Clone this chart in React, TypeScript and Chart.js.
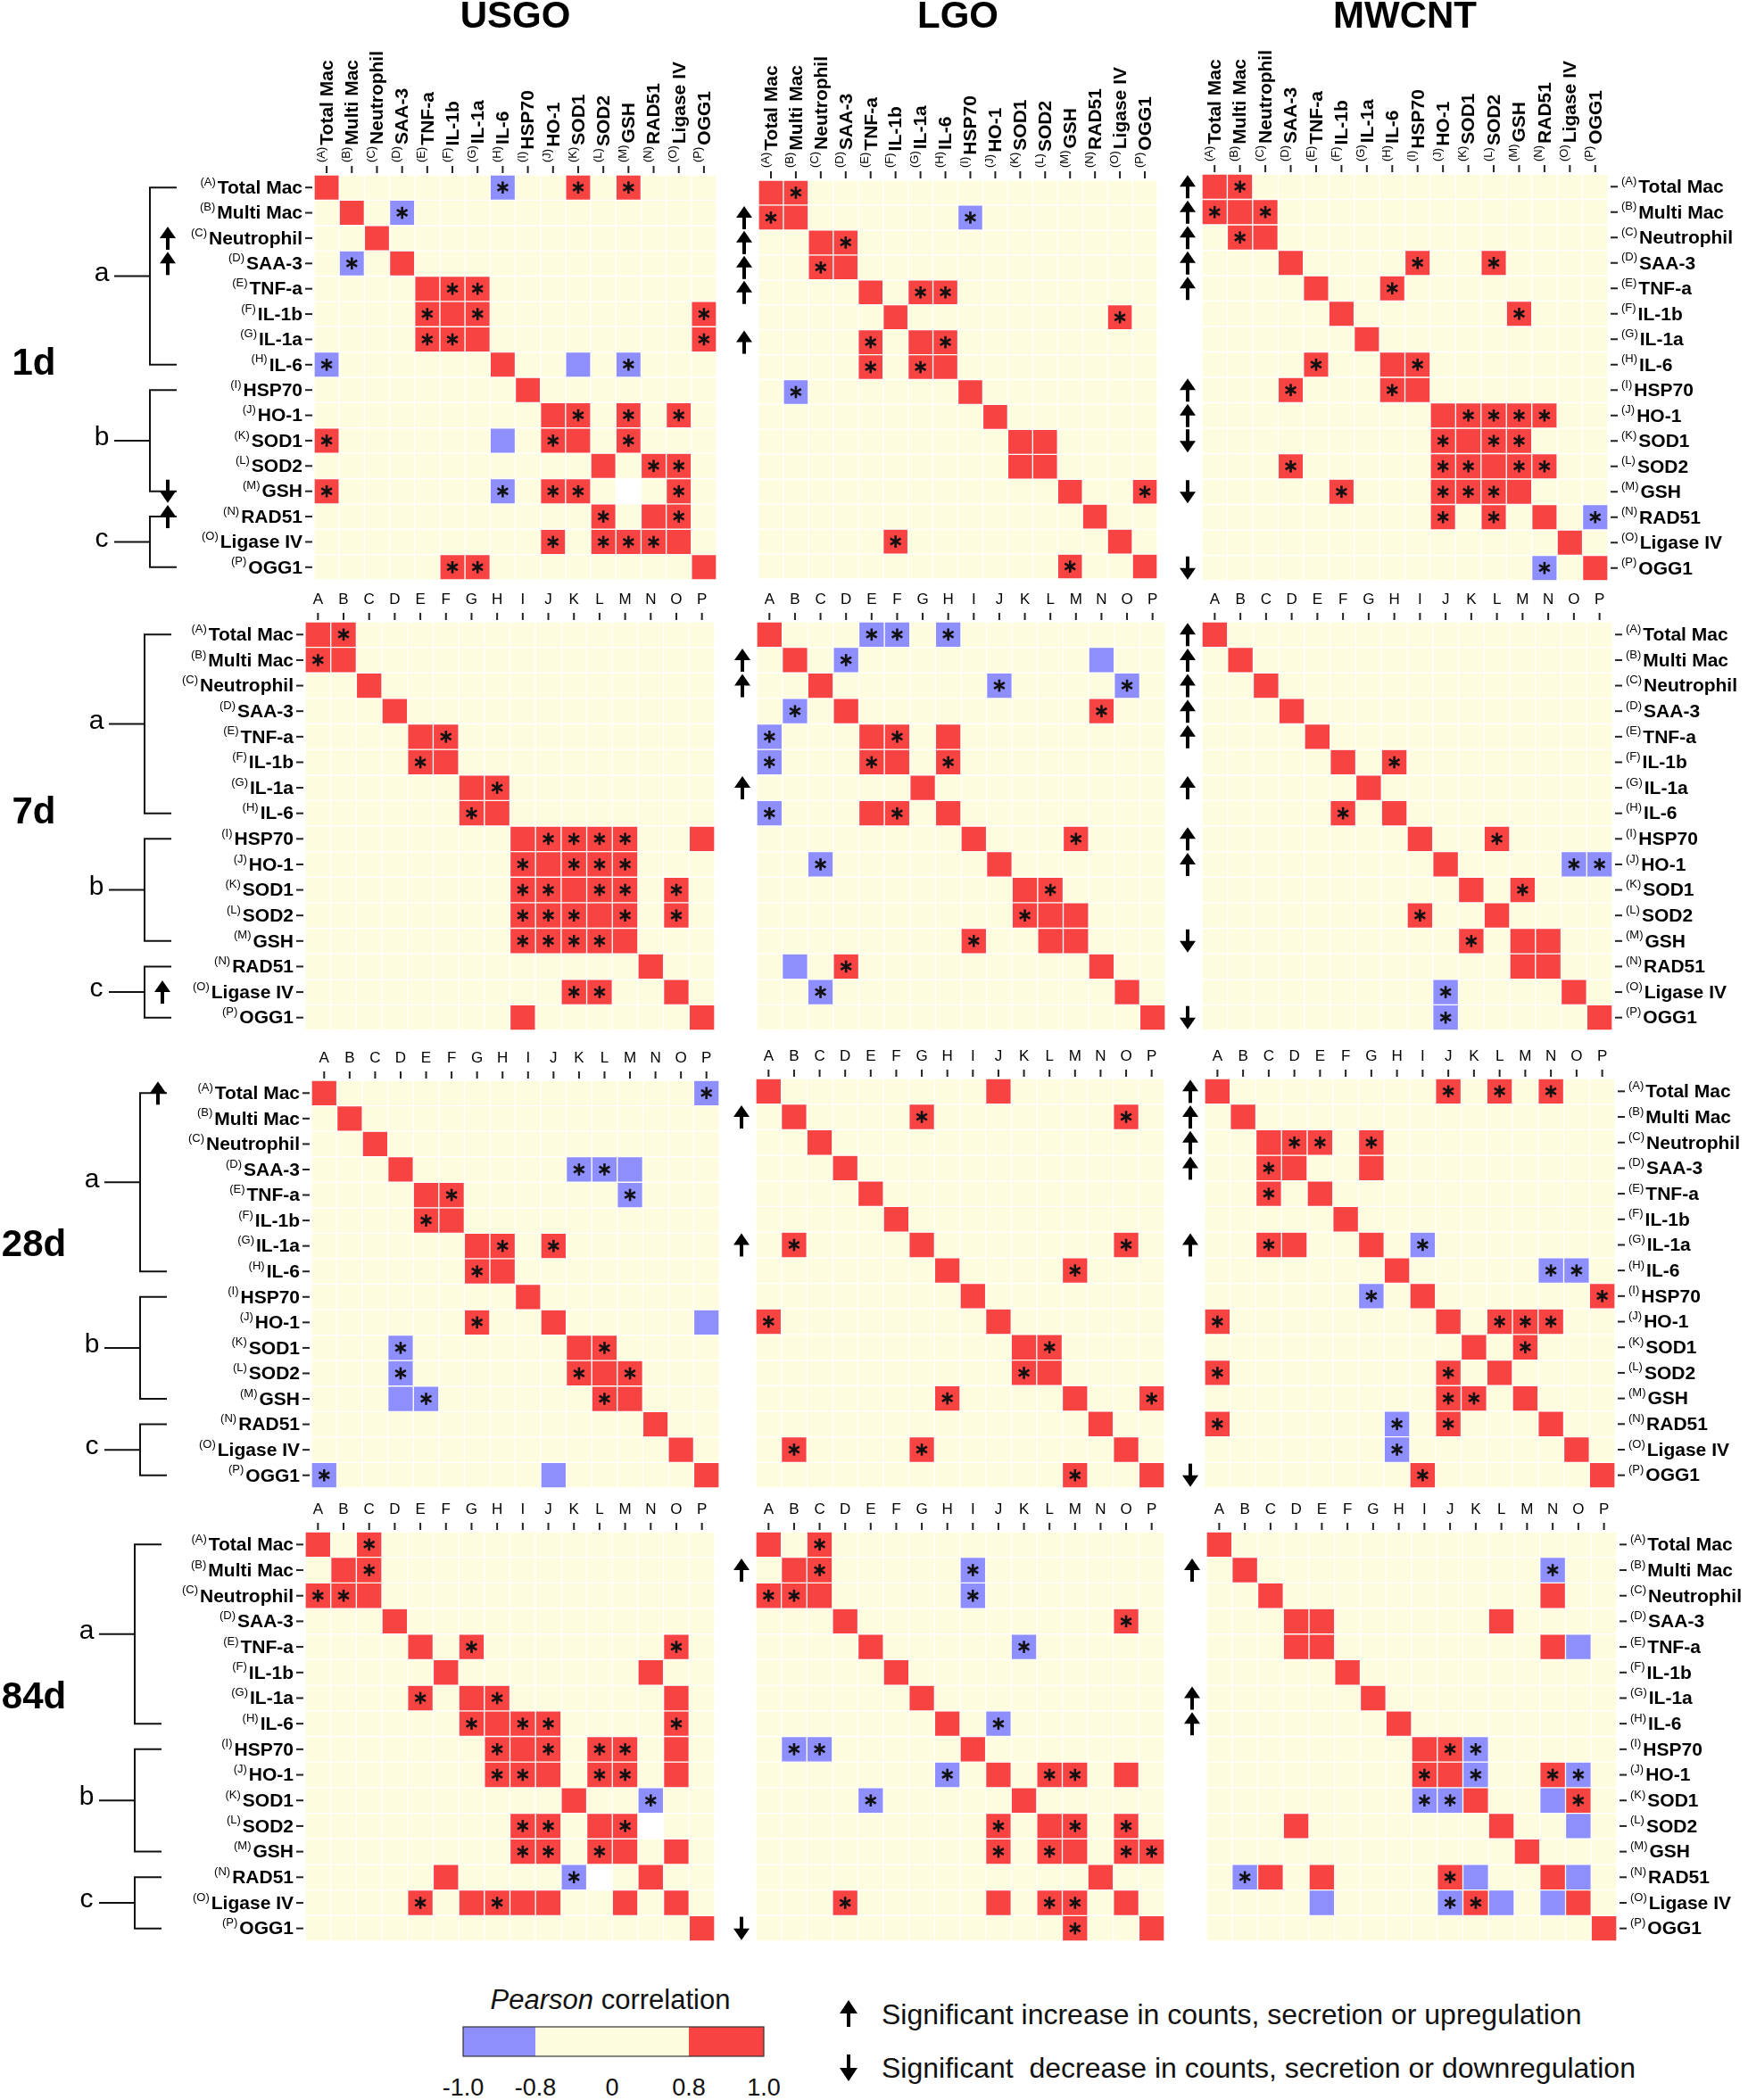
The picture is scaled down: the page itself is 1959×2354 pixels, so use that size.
import React, { useEffect, useRef } from "react";
import { Chart, registerables } from "chart.js";
Chart.register(...registerables);

// ---------------- DATA ----------------
const LETTERS = ["A", "B", "C", "D", "E", "F", "G", "H", "I", "J", "K", "L", "M", "N", "O", "P"];
const MARKERS = ["Total Mac", "Multi Mac", "Neutrophil", "SAA-3", "TNF-a", "IL-1b", "IL-1a", "IL-6", "HSP70", "HO-1", "SOD1", "SOD2", "GSH", "RAD51", "Ligase IV", "OGG1"];
const MATERIALS = ["USGO", "LGO", "MWCNT"];
const TIMEPOINTS = ["1d", "7d", "28d", "84d"];
const GROUPS = [
  { label: "a", from: 0, to: 7 },
  { label: "b", from: 8, to: 12 },
  { label: "c", from: 13, to: 15 },
];
// cell codes: "." |r|<0.8, "R" r>=0.8, "r" r>=0.8 & significant (*), "B" r<=-0.8, "b" r<=-0.8 & significant (*), "W" no value
const USGO_1D = [
  "R......b..r.r...",
  ".R.b............",
  "..R.............",
  ".b.R............",
  "....Rrr.........",
  "....rRr........r",
  "....rrR........r",
  "b......R..B.b...",
  "........R.......",
  ".........Rr.r.r.",
  "r......B.rR.r...",
  "...........R.rr.",
  "r......b.rr.W.r.",
  "...........r.Rr.",
  ".........r.rrrR.",
  ".....rr........R",
];
const LGO_1D = [
  "Rr..............",
  "rR......b.......",
  "..Rr............",
  "..rR............",
  "....R.rr........",
  ".....R........r.",
  "....r.Rr........",
  "....r.rR........",
  ".b......R.......",
  ".........R......",
  "..........RR....",
  "..........RR....",
  "............R..r",
  ".............R..",
  ".....r........R.",
  "............r..R",
];
const MWCNT_1D = [
  "Rr..............",
  "rRr.............",
  ".rR.............",
  "...R....r..r....",
  "....R..r........",
  ".....R......r...",
  "......R.........",
  "....r..Rr.......",
  "...r...rR.......",
  ".........Rrrrr..",
  ".........rRrr...",
  "...r.....rrRrr..",
  ".....r...rrrR...",
  ".........r.r.R.b",
  "..............R.",
  ".............b.R",
];
const USGO_7D = [
  "Rr..............",
  "rR..............",
  "..R.............",
  "...R............",
  "....Rr..........",
  "....rR..........",
  "......Rr........",
  "......rR........",
  "........Rrrrr..R",
  "........rRrrr...",
  "........rrRrr.r.",
  "........rrrRr.r.",
  "........rrrrR...",
  ".............R..",
  "..........rr..R.",
  "........R......R",
];
const LGO_7D = [
  "R...bb.b........",
  ".R.b.........B..",
  "..R......b....b.",
  ".b.R.........r..",
  "b...Rr.R........",
  "b...rR.r........",
  "......R.........",
  "b...Rr.R........",
  "........R...r...",
  "..b......R......",
  "..........Rr....",
  "..........rRR...",
  "........r..RR...",
  ".B.r.........R..",
  "..b...........R.",
  "...............R",
];
const MWCNT_7D = [
  "R...............",
  ".R..............",
  "..R.............",
  "...R............",
  "....R...........",
  ".....R.r........",
  "......R.........",
  ".....r.R........",
  "........R..r....",
  ".........R....bb",
  "..........R.r...",
  "........r..R....",
  "..........r.RR..",
  "............RR..",
  ".........b....R.",
  ".........b.....R",
];
const USGO_28D = [
  "R..............b",
  ".R..............",
  "..R.............",
  "...R......bbB...",
  "....Rr......b...",
  "....rR..........",
  "......Rr.r......",
  "......rR........",
  "........R.......",
  "......r..R.....B",
  "...b......Rr....",
  "...b......rRr...",
  "...Bb......rR...",
  ".............R..",
  "..............R.",
  "b........B.....R",
];
const LGO_28D = [
  "R........R......",
  ".R....r.......r.",
  "..R.............",
  "...R............",
  "....R...........",
  ".....R..........",
  ".r....R.......r.",
  ".......R....r...",
  "........R.......",
  "r........R......",
  "..........Rr....",
  "..........rR....",
  ".......r....R..r",
  ".............R..",
  ".r....r.......R.",
  "............r..R",
];
const MWCNT_28D = [
  "R........r.r.r..",
  ".R..............",
  "..Rrr.r.........",
  "..rR..R.........",
  "..r.R...........",
  ".....R..........",
  "..rR..R.b.......",
  ".......R.....bb.",
  "......b.R......r",
  "r........R.rrr..",
  "..........R.r...",
  "r........r.R....",
  ".........rr.R...",
  "r......b.r...R..",
  ".......b......R.",
  "........r......R",
];
const USGO_84D = [
  "R.r.............",
  ".Rr.............",
  "rrR.............",
  "...R............",
  "....R.r.......r.",
  ".....R.......R..",
  "....r.Rr......R.",
  "......rRrr....r.",
  ".......rRr.rr.R.",
  ".......rrR.rr.R.",
  "..........R..b..",
  "........rr.RrW..",
  "........rr.rR.R.",
  ".....R....bW.R..",
  "....r.RrRR..R.R.",
  "...............R",
];
const LGO_84D = [
  "R.r.............",
  ".Rr.....b.......",
  "rrR.....b.......",
  "...R..........r.",
  "....R.....b.....",
  ".....R..........",
  "......R.........",
  ".......R.b......",
  ".bb.....R.......",
  ".......b.R.rr.R.",
  "....b.....R.....",
  ".........r.Rr.r.",
  ".........r.rR.rr",
  ".............R..",
  "...r.....R.rr.R.",
  "............r..R",
];
const MWCNT_84D = [
  "R...............",
  ".R...........b..",
  "..R..........R..",
  "...RR......R....",
  "...RR........RB.",
  ".....R..........",
  "......R.........",
  ".......R........",
  "........Rrb.....",
  "........rRb..rb.",
  "........bbR..Br.",
  "...R.......R..B.",
  "............R...",
  ".bR.R....rB..RB.",
  "....B....brB.BR.",
  "...............R",
];
// arrows: "u" significant increase, "d" significant decrease
const USGO_ARROWS = ["..uu........du..", "..............u.", "u...............", "................"];
const LGO_ARROWS = [".uuuu.u.........", ".uu...u.........", ".u....u.........", ".u.............d"];
const MWCNT_ARROWS = ["uuuuu...uud.d..d", "uuuuu.u.uu..d..d", "uuuu..u........d", ".u....uu........"];

const MATRICES = [
  [USGO_1D, LGO_1D, MWCNT_1D],
  [USGO_7D, LGO_7D, MWCNT_7D],
  [USGO_28D, LGO_28D, MWCNT_28D],
  [USGO_84D, LGO_84D, MWCNT_84D],
];
const ARROWS = [USGO_ARROWS, LGO_ARROWS, MWCNT_ARROWS];

const THRESHOLD = 0.8;
const LEGEND_TICKS = [-1.0, -0.8, 0, 0.8, 1.0];
const LEGEND_TICK_LABELS = ["-1.0", "-0.8", "0", "0.8", "1.0"];

// ---------------- STYLE / LAYOUT ----------------
const RED = "#F84343";
const BLUE = "#8E8EFD";
const CREAM = "#FEFCDF";
const FONT = '"Liberation Sans", Arial, sans-serif';
const LABEL_FONT = `bold 21px ${FONT}`;
const SUP_FONT = `13px ${FONT}`;

const COL_SPAN = [[0, 812], [812, 1318], [1318, 1959]];
const ROW_SPAN = [[0, 662], [662, 1166], [1166, 1676], [1676, 2186]];
const GRID = [
  [[352, 196, 451, 454], [850, 202, 447, 447], [1347, 195, 455, 456]],
  [[342, 697, 459, 458], [848, 697, 458, 458], [1347, 697, 460, 458]],
  [[349, 1211, 457, 457], [847, 1209, 458, 459], [1350, 1209, 460, 459]],
  [[342, 1717, 459, 459], [847, 1717, 458, 459], [1352, 1717, 460, 459]],
];
const BRACKET_X = [168, 162, 157, 151];
const ROWLABEL_POS = [7.5, 7.5, 6.5, 6.5];

function codeValue(ch: string): number {
  if (ch === "R" || ch === "r") return 0.9;
  if (ch === "B" || ch === "b") return -0.9;
  if (ch === "W") return NaN;
  return 0;
}
function colorFor(v: number): string {
  if (Number.isNaN(v)) return "#FFFFFF";
  if (v >= THRESHOLD) return RED;
  if (v <= -THRESHOLD) return BLUE;
  return CREAM;
}

function drawStar(ctx: CanvasRenderingContext2D, x: number, y: number) {
  const r = 6.8;
  ctx.save();
  ctx.strokeStyle = "#111";
  ctx.lineWidth = 2.6;
  for (const a of [90, 30, 150]) {
    const rad = (a * Math.PI) / 180;
    ctx.beginPath();
    ctx.moveTo(x - r * Math.cos(rad), y - r * Math.sin(rad));
    ctx.lineTo(x + r * Math.cos(rad), y + r * Math.sin(rad));
    ctx.stroke();
  }
  ctx.restore();
}

function drawArrow(ctx: CanvasRenderingContext2D, x: number, y: number, dir: string) {
  const h = 26, hw = 9, hh = 13, sw = 4;
  ctx.save();
  ctx.fillStyle = "#000";
  ctx.beginPath();
  if (dir === "u") {
    const t = y - h / 2;
    ctx.moveTo(x, t);
    ctx.lineTo(x + hw, t + hh);
    ctx.lineTo(x - hw, t + hh);
    ctx.closePath();
    ctx.fill();
    ctx.fillRect(x - sw / 2, t + hh - 1, sw, h - hh + 1);
  } else {
    const b = y + h / 2;
    ctx.moveTo(x, b);
    ctx.lineTo(x + hw, b - hh);
    ctx.lineTo(x - hw, b - hh);
    ctx.closePath();
    ctx.fill();
    ctx.fillRect(x - sw / 2, y - h / 2, sw, h - hh + 1);
  }
  ctx.restore();
}

function makeDecor(row: number, col: number, cells: string[], arrows: string) {
  return {
    id: "decor",
    afterDatasetsDraw(chart: any) {
      const ctx = chart.ctx as CanvasRenderingContext2D;
      const xs = chart.scales.x, ys = chart.scales.y;
      cells.forEach((s, r) => {
        for (let c = 0; c < LETTERS.length; c++) {
          const ch = s[c];
          if (ch === "r" || ch === "b") drawStar(ctx, xs.getPixelForValue(c), ys.getPixelForValue(r + 0.5));
        }
      });
    },
    afterDraw(chart: any) {
      const ctx = chart.ctx as CanvasRenderingContext2D;
      const xs = chart.scales.x, ys = chart.scales.y;
      const { left, right, top } = chart.chartArea;
      ctx.save();
      ctx.fillStyle = "#000";
      ctx.strokeStyle = "#222";
      ctx.lineWidth = 2;
      // top ticks + labels
      LETTERS.forEach((L, c) => {
        const x = xs.getPixelForValue(c);
        ctx.beginPath();
        ctx.moveTo(x, top - 10);
        ctx.lineTo(x, top - 2);
        ctx.stroke();
        if (row === 0) {
          ctx.save();
          ctx.translate(x, top - 14);
          ctx.rotate(-Math.PI / 2);
          ctx.textAlign = "left";
          ctx.textBaseline = "middle";
          ctx.font = SUP_FONT;
          const sup = `(${L})`;
          ctx.fillText(sup, 0, -6);
          const sw = ctx.measureText(sup).width;
          ctx.font = LABEL_FONT;
          ctx.fillText(MARKERS[c], sw + 2, 1);
          ctx.restore();
        } else {
          ctx.font = `17px ${FONT}`;
          ctx.textAlign = "center";
          ctx.textBaseline = "middle";
          ctx.fillText(L, x, top - 25);
        }
      });
      // y axis labels
      if (col === 0 || col === 2) {
        LETTERS.forEach((L, r) => {
          const y = ys.getPixelForValue(r + 0.5);
          ctx.beginPath();
          if (col === 0) {
            ctx.moveTo(left - 10, y);
            ctx.lineTo(left - 2, y);
          } else {
            ctx.moveTo(right + 3, y);
            ctx.lineTo(right + 11, y);
          }
          ctx.stroke();
          ctx.textBaseline = "middle";
          const sup = `(${L})`;
          if (col === 0) {
            ctx.font = LABEL_FONT;
            ctx.textAlign = "right";
            ctx.fillText(MARKERS[r], left - 13, y + 1);
            const w = ctx.measureText(MARKERS[r]).width;
            ctx.font = SUP_FONT;
            ctx.fillText(sup, left - 13 - w - 2, y - 6);
          } else {
            ctx.font = SUP_FONT;
            ctx.textAlign = "left";
            ctx.fillText(sup, right + 15, y - 6);
            const w = ctx.measureText(sup).width;
            ctx.font = LABEL_FONT;
            ctx.fillText(MARKERS[r], right + 15 + w + 2, y + 1);
          }
        });
      }
      // brackets and time label (left column)
      if (col === 0) {
        const bx = BRACKET_X[row];
        ctx.strokeStyle = "#111";
        ctx.lineWidth = 2;
        GROUPS.forEach((g) => {
          const y0 = ys.getPixelForValue(g.from + 0.5);
          const y1 = ys.getPixelForValue(g.to + 0.5);
          const ym = (y0 + y1) / 2;
          ctx.beginPath();
          ctx.moveTo(bx + 30, y0);
          ctx.lineTo(bx, y0);
          ctx.lineTo(bx, y1);
          ctx.lineTo(bx + 30, y1);
          ctx.moveTo(bx, ym);
          ctx.lineTo(bx - 40, ym);
          ctx.stroke();
          ctx.font = `30px ${FONT}`;
          ctx.textAlign = "center";
          ctx.textBaseline = "middle";
          ctx.fillText(g.label, bx - 54, ym - 3);
        });
        ctx.font = `bold 42px ${FONT}`;
        ctx.textAlign = "center";
        ctx.textBaseline = "middle";
        ctx.fillText(TIMEPOINTS[row], 38, ys.getPixelForValue(ROWLABEL_POS[row]));
      }
      // arrows
      const ax = col === 0 ? BRACKET_X[row] + 20 : left - 16;
      for (let r = 0; r < arrows.length; r++) {
        const a = arrows[r];
        if (a === "u" || a === "d") drawArrow(ctx, ax, ys.getPixelForValue(r + 0.5), a);
      }
      // column titles
      if (row === 0) {
        ctx.font = `bold 42px ${FONT}`;
        ctx.textAlign = "center";
        ctx.textBaseline = "middle";
        ctx.fillText(MATERIALS[col], (left + right) / 2, 19);
      }
      ctx.restore();
    },
  };
}

function Panel({ row, col }: { row: number; col: number }) {
  const ref = useRef<HTMLCanvasElement>(null);
  const [cx0, cx1] = COL_SPAN[col];
  const [cy0, cy1] = ROW_SPAN[row];
  const W = cx1 - cx0, H = cy1 - cy0;
  useEffect(() => {
    const [gx, gy, gw, gh] = GRID[row][col];
    const cells = MATRICES[row][col];
    const arrows = ARROWS[col][row];
    const datasets = cells.map((s, r) => ({
      label: MARKERS[r],
      data: LETTERS.map(() => [r, r + 1]),
      backgroundColor: LETTERS.map((_, c) => colorFor(codeValue(s[c]))),
      borderColor: "#FFFFFF",
      borderWidth: 1,
      borderSkipped: false,
      grouped: false,
      barPercentage: 1,
      categoryPercentage: 1,
    }));
    const chart = new Chart(ref.current as HTMLCanvasElement, {
      type: "bar",
      data: { labels: LETTERS, datasets: datasets as any },
      options: {
        responsive: false,
        maintainAspectRatio: false,
        animation: false,
        devicePixelRatio: 1,
        events: [],
        layout: {
          padding: { left: gx - cx0, top: gy - cy0, right: cx1 - (gx + gw), bottom: cy1 - (gy + gh) },
        },
        plugins: { legend: { display: false }, tooltip: { enabled: false } },
        scales: {
          x: { type: "category", display: false, offset: true, grid: { display: false } },
          y: { type: "linear", display: false, min: 0, max: 16, reverse: true },
        },
      } as any,
      plugins: [makeDecor(row, col, cells, arrows) as any],
    });
    return () => chart.destroy();
  }, []);
  return (
    <canvas
      ref={ref}
      width={W}
      height={H}
      style={{ position: "absolute", left: cx0, top: cy0, width: W, height: H }}
    />
  );
}

// piecewise legend scale
const LEGEND_BREAKS = [-1.0, -0.8, 0.8, 1.0];
const LEGEND_PX = [519, 600, 772, 856];
function legendX(v: number) {
  for (let i = 0; i < LEGEND_BREAKS.length - 1; i++) {
    if (v <= LEGEND_BREAKS[i + 1]) {
      const t = (v - LEGEND_BREAKS[i]) / (LEGEND_BREAKS[i + 1] - LEGEND_BREAKS[i]);
      return LEGEND_PX[i] + t * (LEGEND_PX[i + 1] - LEGEND_PX[i]);
    }
  }
  return LEGEND_PX[LEGEND_PX.length - 1];
}

function arrowPath(x: number, y: number, dir: string) {
  const h = 30, hw = 10, hh = 15, sw = 2;
  if (dir === "u") {
    const t = y - h / 2, b = y + h / 2;
    return `M${x},${t} L${x + hw},${t + hh} L${x + sw},${t + hh} L${x + sw},${b} L${x - sw},${b} L${x - sw},${t + hh} L${x - hw},${t + hh} Z`;
  }
  const t = y - h / 2, b = y + h / 2;
  return `M${x},${b} L${x + hw},${b - hh} L${x + sw},${b - hh} L${x + sw},${t} L${x - sw},${t} L${x - sw},${b - hh} L${x - hw},${b - hh} Z`;
}

function Legend() {
  const top = 2186;
  const barTop = 2272 - top, barH = 33;
  const segs = [
    { from: -1.0, to: -THRESHOLD, color: BLUE },
    { from: -THRESHOLD, to: THRESHOLD, color: CREAM },
    { from: THRESHOLD, to: 1.0, color: RED },
  ];
  return (
    <svg
      width={1959}
      height={2354 - top}
      style={{ position: "absolute", left: 0, top, fontFamily: FONT }}
    >
      <text x={684} y={2241 - top} fontSize={31} textAnchor="middle" dominantBaseline="central" fill="#111">
        <tspan fontStyle="italic">Pearson</tspan> correlation
      </text>
      {segs.map((s, i) => (
        <rect key={i} x={legendX(s.from)} y={barTop} width={legendX(s.to) - legendX(s.from)} height={barH} fill={s.color} />
      ))}
      <rect x={legendX(-1)} y={barTop} width={legendX(1) - legendX(-1)} height={barH} fill="none" stroke="#333" strokeWidth={1.2} />
      {LEGEND_TICKS.map((v, i) => (
        <text key={i} x={legendX(v)} y={2340 - top} fontSize={27} textAnchor="middle" dominantBaseline="central" fill="#111">
          {LEGEND_TICK_LABELS[i]}
        </text>
      ))}
      <path d={arrowPath(951, 2257 - top, "u")} fill="#000" />
      <text x={988} y={2258 - top} fontSize={32} dominantBaseline="central" fill="#111" xmlSpace="preserve" style={{ whiteSpace: "pre" }}>
        Significant increase in counts, secretion or upregulation
      </text>
      <path d={arrowPath(951, 2318 - top, "d")} fill="#000" />
      <text x={988} y={2318 - top} fontSize={32} dominantBaseline="central" fill="#111" xmlSpace="preserve" style={{ whiteSpace: "pre" }}>
        {"Significant  decrease in counts, secretion or downregulation"}
      </text>
    </svg>
  );
}

export default function App() {
  const panels: JSX.Element[] = [];
  for (let r = 0; r < TIMEPOINTS.length; r++) {
    for (let c = 0; c < MATERIALS.length; c++) {
      panels.push(<Panel key={`${r}-${c}`} row={r} col={c} />);
    }
  }
  return (
    <div style={{ position: "absolute", left: 0, top: 0, width: 1959, height: 2354, background: "#fff" }}>
      {panels}
      <Legend />
    </div>
  );
}
